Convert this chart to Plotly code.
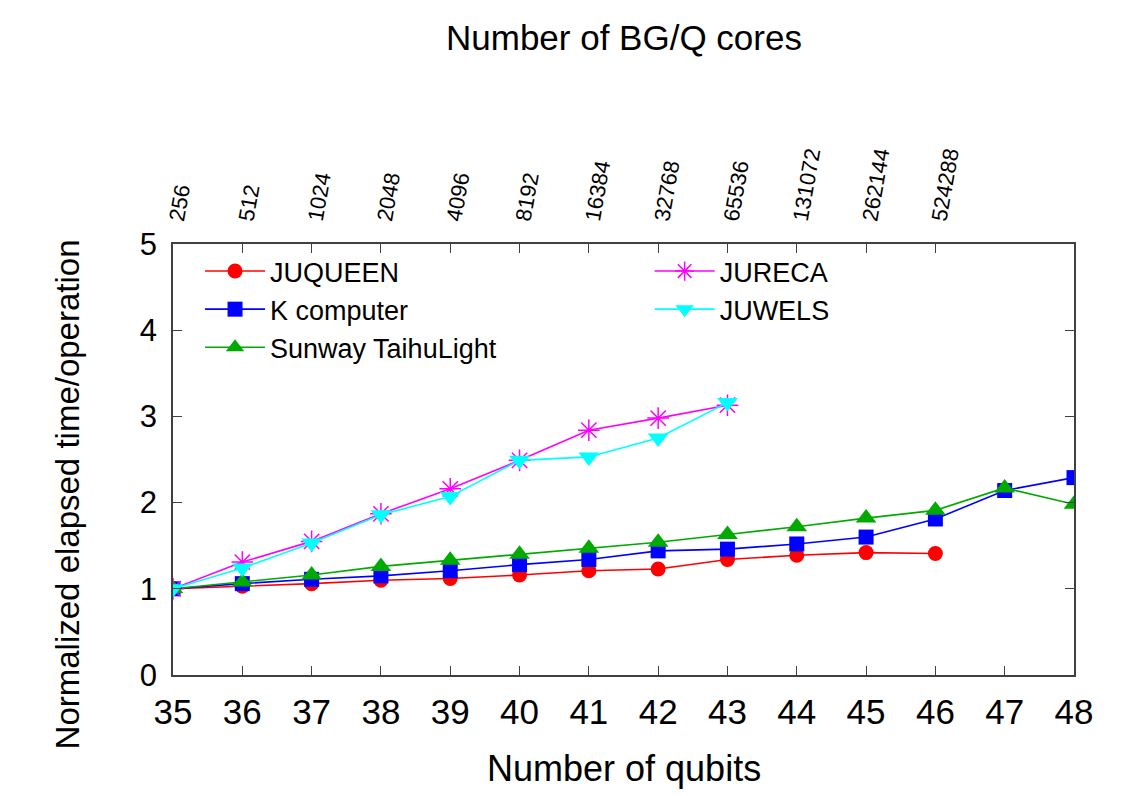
import plotly.graph_objects as go

qubits = [35, 36, 37, 38, 39, 40, 41, 42, 43, 44, 45, 46, 47, 48]
juqueen = [1.00, 1.03, 1.06, 1.10, 1.12, 1.16, 1.21, 1.23, 1.34, 1.39, 1.42, 1.41]
kcomputer = [1.00, 1.06, 1.11, 1.15, 1.21, 1.28, 1.34, 1.44, 1.46, 1.52, 1.60, 1.81, 2.14, 2.29]
sunway = [1.00, 1.08, 1.16, 1.26, 1.33, 1.40, 1.47, 1.54, 1.63, 1.72, 1.82, 1.91, 2.17, 1.98]
jureca = [1.00, 1.31, 1.55, 1.87, 2.16, 2.49, 2.84, 2.98, 3.13]
juwels = [1.00, 1.24, 1.53, 1.86, 2.07, 2.49, 2.53, 2.75, 3.16]

core_ticks = [35, 36, 37, 38, 39, 40, 41, 42, 43, 44, 45, 46]
core_labels = ["256", "512", "1024", "2048", "4096", "8192", "16384", "32768",
               "65536", "131072", "262144", "524288"]

FONT = "Liberation Sans, Arial, sans-serif"

fig = go.Figure()

def add(name, ys, color, symbol, size, legend, open_=False):
    fig.add_trace(go.Scatter(
        x=qubits[:len(ys)], y=ys, name=name, mode="lines+markers",
        line=dict(color=color, width=1.6),
        marker=dict(symbol=symbol, size=size, color=color,
                    line=dict(color=color, width=1.5 if open_ else 0)),
        legend=legend, legendgroup=name,
    ))

add("JUQUEEN", juqueen, "#ff0000", "circle", 15, "legend")
add("K computer", kcomputer, "#0000ff", "square", 15, "legend")
add("Sunway TaihuLight", sunway, "#00aa00", "triangle-up", 18, "legend")
add("JURECA", jureca, "#ff00ff", "asterisk-open", 18, "legend2", open_=True)
add("JUWELS", juwels, "#00ffff", "triangle-down", 18, "legend2")

# invisible trace for top axis
fig.add_trace(go.Scatter(x=[35, 48], y=[0, 0], xaxis="x2", mode="markers",
                         marker=dict(opacity=0), showlegend=False, hoverinfo="skip"))

axis_line = dict(showline=True, linecolor="#404040", linewidth=1.5,
                 ticks="inside", ticklen=9, tickwidth=1.2, tickcolor="#404040",
                 showgrid=False, zeroline=False)

fig.update_layout(
    width=1124, height=796,
    margin=dict(l=173, r=50, t=244, b=121),
    paper_bgcolor="white", plot_bgcolor="white",
    font=dict(family=FONT, color="black"),
    xaxis=dict(range=[35, 48], tickvals=qubits, tickfont=dict(size=35),
               ticklabelstandoff=5, mirror=False, **axis_line),
    xaxis2=dict(range=[35, 48], overlaying="x", side="top", tickvals=core_ticks,
                ticktext=core_labels, tickangle=-80, tickfont=dict(size=22),
                ticklabelstandoff=2, **axis_line),
    yaxis=dict(range=[0, 5], tickvals=[0, 1, 2, 3, 4, 5], tickfont=dict(size=31),
               ticklabelstandoff=8, mirror="ticks", **axis_line),
    legend=dict(x=0.030, y=0.993, xanchor="left", yanchor="top",
                font=dict(size=27, family=FONT), bgcolor="rgba(0,0,0,0)",
                tracegroupgap=0, itemwidth=60),
    legend2=dict(x=0.529, y=0.993, xanchor="left", yanchor="top",
                 font=dict(size=27, family=FONT), bgcolor="rgba(0,0,0,0)",
                 tracegroupgap=0, itemwidth=60),
    showlegend=True,
    annotations=[
        dict(text="Number of qubits", x=0.5, y=-0.216, xref="paper", yref="paper",
             xanchor="center", yanchor="middle", showarrow=False, font=dict(size=36)),
        dict(text="Number of BG/Q cores", x=0.5, y=1.478, xref="paper", yref="paper",
             xanchor="center", yanchor="middle", showarrow=False, font=dict(size=35)),
        dict(text="Normalized elapsed time/operation", x=-0.117, y=0.418, xref="paper", yref="paper",
             xanchor="center", yanchor="middle", textangle=-90, showarrow=False, font=dict(size=33)),
    ],
)

fig.write_html("out.html")
